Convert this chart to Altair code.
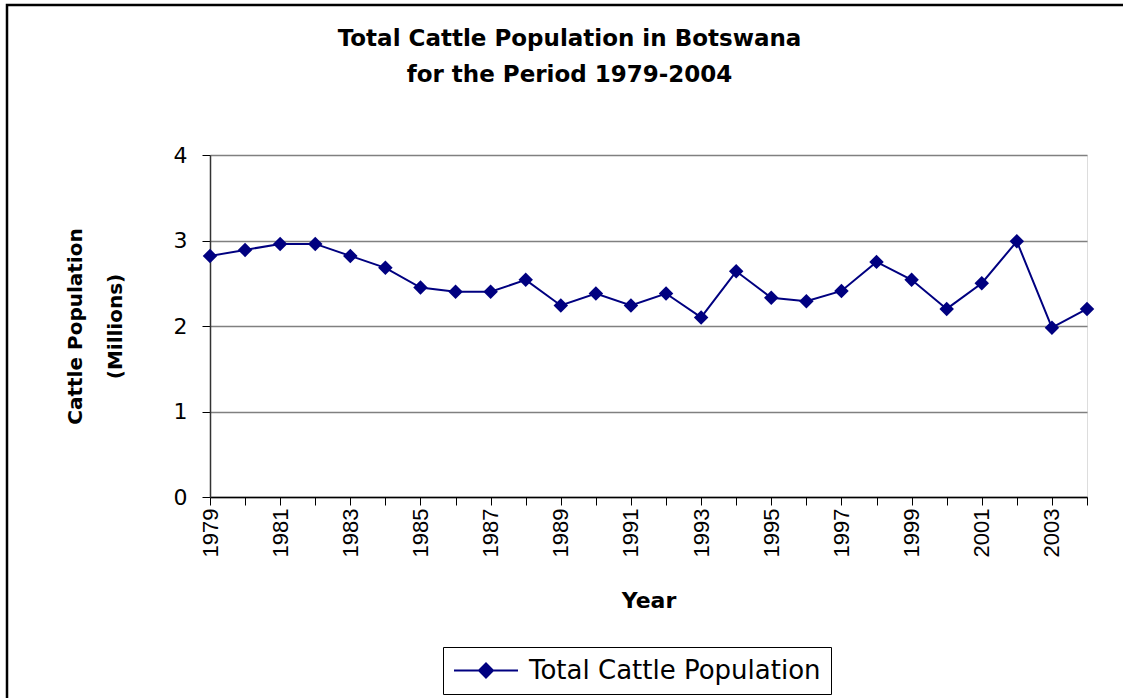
import altair as alt
import pandas as pd

# Botswana cattle herd, millions of head
years = [1979, 1980, 1981, 1982, 1983, 1984, 1985, 1986, 1987, 1988, 1989, 1990, 1991,
         1992, 1993, 1994, 1995, 1996, 1997, 1998, 1999, 2000, 2001, 2002, 2003, 2004]
cattle = [2.82, 2.89, 2.96, 2.96, 2.82, 2.68, 2.45, 2.40, 2.40, 2.54, 2.24, 2.38, 2.24,
          2.38, 2.10, 2.64, 2.33, 2.29, 2.41, 2.75, 2.54, 2.20, 2.50, 2.99, 1.98, 2.20]
series_name = "Total Cattle Population"
y_ticks = [0, 1, 2, 3, 4]

NAVY = "#000080"
BOLD_FONT = "DejaVu Sans"
PLAIN_FONT = "DejaVu Sans"

df = pd.DataFrame({
    "year": [str(y) for y in years],
    "cattle": cattle,
    "series": [series_name] * len(years),
})

# legend glyph: a 64px line with a diamond in its middle, drawn from a 25px symbol slot
legend_symbol = "M-1,0L4.12,0M1,0L1.56,-0.56L2.12,0L1.56,0.56Z"

x_enc = alt.X(
    "year:O",
    sort=None,
    scale=alt.Scale(type="point", padding=0),
    axis=alt.Axis(
        title="Year",
        titleFont=BOLD_FONT,
        titleFontSize=22,
        titleFontWeight="bold",
        titleColor="black",
        titleY=110,
        titleBaseline="alphabetic",
        labelAngle=270,
        labelFont="Liberation Sans",
        labelFontSize=22,
        labelColor="black",
        labelPadding=3,
        labelOverlap=False,
        labelExpr="parseInt(datum.label) % 2 == 1 ? datum.label : ''",
        tickSize=8,
        tickColor="black",
        domainColor="black",
        domainWidth=1.5,
        grid=False,
    ),
)

y_enc = alt.Y(
    "cattle:Q",
    scale=alt.Scale(domain=[0, 4], nice=False),
    axis=alt.Axis(
        title=["Cattle Population", "(Millions)"],
        titleFont=BOLD_FONT,
        titleFontSize=20,
        titleFontWeight="bold",
        titleColor="black",
        titleAngle=270,
        titleAlign="center",
        titleBaseline="middle",
        titleLineHeight=40,
        titleX=-135,
        titleY=171,
        values=y_ticks,
        format="d",
        labelFont=PLAIN_FONT,
        labelFontSize=22,
        labelColor="black",
        labelPadding=15,
        tickSize=8,
        tickColor="black",
        domainColor="#333333",
        domainWidth=1.5,
        gridColor="#808080",
        gridWidth=1.5,
    ),
)

color_enc = alt.Color(
    "series:N",
    title=None,
    scale=alt.Scale(range=[NAVY]),
    legend=alt.Legend(
        orient="none",
        legendX=233,
        legendY=492,
        symbolType=legend_symbol,
        symbolSize=625,
        symbolStrokeWidth=2,
        symbolFillColor=NAVY,
        symbolStrokeColor=NAVY,
        labelFont=PLAIN_FONT,
        labelFontSize=26,
        labelColor="black",
        labelOffset=49,
        labelLimit=500,
        padding=10,
        strokeColor="black",
        fillColor="white",
    ),
)

# outer chart frame
frame = alt.Chart(pd.DataFrame({"k": [0]})).mark_rect(
    filled=False, stroke="black", strokeWidth=2.5
).encode(
    x=alt.value(-203), x2=alt.value(1000), y=alt.value(-150), y2=alt.value(600)
)

line = alt.Chart(df).mark_line(
    color=NAVY,
    strokeWidth=2,
    point=alt.OverlayMarkDef(shape="diamond", filled=True, size=210, color=NAVY),
).encode(x=x_enc, y=y_enc, color=color_enc)

chart = alt.layer(frame, line).properties(
    width=877,
    height=342,
    autosize=alt.AutoSizeParams(type="none"),
    padding={"left": 210, "top": 155, "right": 36, "bottom": 201},
    title=alt.TitleParams(
        text=["Total Cattle Population in Botswana", "for the Period 1979-2004"],
        font=BOLD_FONT,
        fontSize=23,
        fontWeight="bold",
        color="black",
        anchor="middle",
        frame="group",
        dx=-79,
        dy=106,
        lineHeight=36,
        baseline="bottom",
        offset=0,
    ),
).configure_view(
    stroke="#808080", strokeWidth=2
).configure(
    background="white"
)

chart.save("out.html", embed_options={"renderer": "svg", "actions": False})
